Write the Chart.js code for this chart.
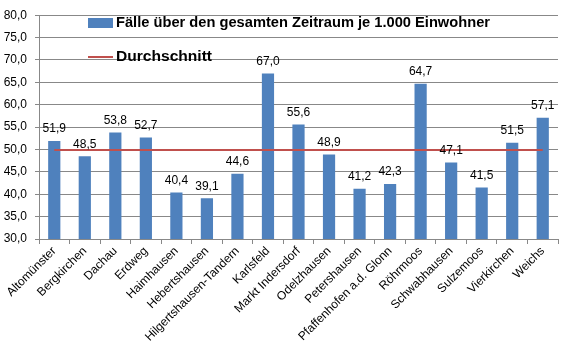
<!DOCTYPE html>
<html>
<head>
<meta charset="utf-8">
<script src="https://cdn.jsdelivr.net/npm/chart.js@4.4.1/dist/chart.umd.min.js"></script>
<style>
html,body{margin:0;padding:0;background:#fff;}
#wrap{width:567px;height:357px;position:relative;}
</style>
</head>
<body>
<div id="wrap"><canvas id="c" width="567" height="357"></canvas></div>
<script>
const categories = ["Altomünster","Bergkirchen","Dachau","Erdweg","Haimhausen","Hebertshausen","Hilgertshausen-Tandern","Karlsfeld","Markt Indersdorf","Odelzhausen","Petershausen","Pfaffenhofen a.d. Glonn","Röhrmoos","Schwabhausen","Sulzemoos","Vierkirchen","Weichs"];
const casesPer1000 = [51.9,48.5,53.8,52.7,40.4,39.1,44.6,67.0,55.6,48.9,41.2,42.3,64.7,47.1,41.5,51.5,57.1];
const averageLine = [49.9,49.9,49.9,49.9,49.9,49.9,49.9,49.9,49.9,49.9,49.9,49.9,49.9,49.9,49.9,49.9,49.9];
const seriesNames = ["Fälle über den gesamten Zeitraum je 1.000 Einwohner","Durchschnitt"];
const yMin = 30, yMax = 80, yStep = 5;

const fmt = v => v.toFixed(1).replace('.', ',');
const FONT = '"Liberation Sans", Arial, sans-serif';
const BLUE = '#4F81BD', RED = '#C0504D', GRID = '#888888';

const labelsPlugin = {
  id: 'valueLabels',
  afterDatasetsDraw(chart) {
    const ctx = chart.ctx;
    const meta = chart.getDatasetMeta(1);
    ctx.save();
    ctx.font = '12px ' + FONT;
    ctx.fillStyle = '#000';
    ctx.textAlign = 'center';
    ctx.textBaseline = 'middle';
    meta.data.forEach((bar, i) => {
      ctx.fillText(fmt(casesPer1000[i]), bar.x, bar.y - 12);
    });
    ctx.restore();
  }
};

const legendPlugin = {
  id: 'customLegend',
  afterDraw(chart) {
    const ctx = chart.ctx;
    const a = chart.chartArea;
    const x0 = a.left + 49;
    ctx.save();
    ctx.fillStyle = BLUE;
    ctx.fillRect(x0, 18, 25, 10);
    ctx.strokeStyle = RED;
    ctx.lineWidth = 2;
    ctx.beginPath();
    ctx.moveTo(x0, 57);
    ctx.lineTo(x0 + 25, 57);
    ctx.stroke();
    ctx.fillStyle = '#000';
    ctx.font = 'bold 15px ' + FONT;
    ctx.textBaseline = 'middle';
    ctx.textAlign = 'left';
    const drawFit = (txt, x, y, w) => {
      const m = ctx.measureText(txt).width;
      ctx.save();
      ctx.translate(x, y);
      ctx.scale(w / m, 1);
      ctx.fillText(txt, 0, 0);
      ctx.restore();
    };
    drawFit(seriesNames[0], x0 + 28, 23, 374);
    drawFit(seriesNames[1], x0 + 28, 57, 96);
    ctx.restore();
  }
};

new Chart(document.getElementById('c'), {
  data: {
    labels: categories,
    datasets: [
      { type: 'line', label: seriesNames[1], data: averageLine, borderColor: RED, borderWidth: 2, pointRadius: 0, fill: false, order: 0 },
      { type: 'bar', label: seriesNames[0], data: casesPer1000, backgroundColor: BLUE, barPercentage: 0.4, categoryPercentage: 1.0, order: 1 }
    ]
  },
  options: {
    responsive: false,
    animation: false,
    devicePixelRatio: 1,
    layout: { padding: { left: 0, right: 9, top: 9, bottom: 0 } },
    plugins: { legend: { display: false }, tooltip: { enabled: false } },
    scales: {
      x: {
        offset: true,
        grid: { offset: true, drawOnChartArea: false, drawTicks: true, tickLength: 5, color: GRID },
        border: { color: GRID, width: 1 },
        ticks: { font: { family: FONT, size: 12 }, color: '#000', minRotation: 45, maxRotation: 45, padding: 0, autoSkip: false },
        afterFit(s) { s.height = 118; }
      },
      y: {
        min: yMin, max: yMax,
        grid: { color: GRID, tickLength: 4 },
        border: { color: GRID, width: 1 },
        ticks: { stepSize: yStep, font: { family: FONT, size: 12 }, color: '#000', padding: 8, callback: v => fmt(v) },
        afterFit(s) { s.width = 39; }
      }
    }
  },
  plugins: [labelsPlugin, legendPlugin]
});
</script>
</body>
</html>
